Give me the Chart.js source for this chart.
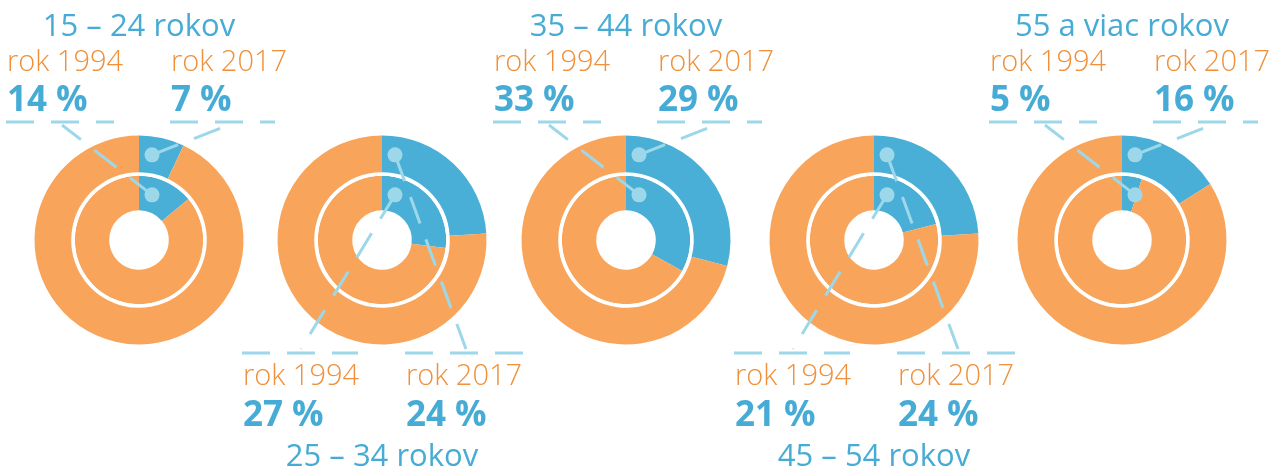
<!DOCTYPE html>
<html>
<head>
<meta charset="utf-8">
<script src="https://cdn.jsdelivr.net/npm/chart.js@4"></script>
<style>
  html, body { margin: 0; padding: 0; background: #fff; }
  #wrap { position: relative; width: 1271px; height: 466px; overflow: hidden; }
  #wrap canvas { position: absolute; left: 0; top: 0; }
  #texts { position: absolute; left: 0; top: 0; }
  .title { font-family: 'Open Sans', sans-serif; font-size: 31px; fill: #47acd5; }
  .year { font-family: 'Open Sans', sans-serif; font-size: 29px; font-weight: 300; fill: #f0903a; }
  .pct { font-family: 'Open Sans', sans-serif; font-size: 35px; font-weight: 700; fill: #47acd5; }
</style>
</head>
<body>
<div id="wrap">
  <svg id="texts" width="1271" height="466"></svg>
</div>
<script>
// data
var groups = ['15 – 24 rokov', '25 – 34 rokov', '35 – 44 rokov', '45 – 54 rokov', '55 a viac rokov'];
var years = ['rok 1994', 'rok 2017'];
var share1994 = [14, 27, 33, 21, 5];
var share2017 = [7, 24, 29, 24, 16];

// layout
var centersX = [139, 382, 626, 874, 1122];
var centerY = 240;
var BLUE = '#49afd6';
var ORANGE = '#f8a55b';
var LIGHT = '#9dd8ea';

var sides = {
  top: {
    leftOff: -133, rightOff: 31, lineY: 122,
    leftLen: 108, rightLen: 105,
    innerEnd: [56, 125], outerEnd: [51, 128],
    titleY: 36, yearY: 71, pctY: 111
  },
  bottom: {
    leftOff: -140, rightOff: 23, lineY: 353,
    leftLen: 116, rightLen: 119,
    innerEnd: [59, 349], outerEnd: [61, 349],
    titleY: 466, yearY: 385, pctY: 426
  }
};

function dashLine(ctx, x1, y1, x2, y2) {
  ctx.save();
  ctx.strokeStyle = LIGHT;
  ctx.lineWidth = 3;
  ctx.setLineDash([28, 17]);
  ctx.beginPath();
  ctx.moveTo(x1, y1);
  ctx.lineTo(x2, y2);
  ctx.stroke();
  ctx.restore();
}

// tečky na segmentoch + spojovacie čiary k popisom
var leaders = {
  id: 'leaders',
  afterDatasetsDraw: function (chart, args, opts) {
    var ctx = chart.ctx;
    var s = sides[opts.side];
    var cx = opts.cx;
    var lx = cx + s.leftOff;
    var rx = cx + s.rightOff;

    dashLine(ctx, lx, s.lineY, lx + s.leftLen, s.lineY);
    dashLine(ctx, rx, s.lineY, rx + s.rightLen, s.lineY);

    var rings = [
      { ds: 0, end: [rx + s.outerEnd[0], s.outerEnd[1]] },
      { ds: 2, end: [lx + s.innerEnd[0], s.innerEnd[1]] }
    ];
    rings.forEach(function (r) {
      var arc = chart.getDatasetMeta(r.ds).data[0];
      var p = arc.getProps(['x', 'y', 'startAngle', 'innerRadius', 'outerRadius'], true);
      var midR = (p.innerRadius + p.outerRadius) / 2;
      var a = p.startAngle + Math.asin(13 / midR);
      var dx = p.x + midR * Math.cos(a);
      var dy = p.y + midR * Math.sin(a);
      dashLine(ctx, dx, dy, r.end[0], r.end[1]);
      ctx.save();
      ctx.fillStyle = LIGHT;
      ctx.beginPath();
      ctx.arc(dx, dy, 7.5, 0, Math.PI * 2);
      ctx.fill();
      ctx.restore();
    });
  }
};

var wrap = document.getElementById('wrap');
var svg = document.getElementById('texts');

function addText(cls, x, y, str, anchor) {
  var t = document.createElementNS('http://www.w3.org/2000/svg', 'text');
  t.setAttribute('class', cls);
  t.setAttribute('x', x);
  t.setAttribute('y', y);
  if (anchor) t.setAttribute('text-anchor', anchor);
  t.textContent = str;
  svg.appendChild(t);
}

for (var i = 0; i < groups.length; i++) {
  var side = (i % 2 === 0) ? 'top' : 'bottom';
  var s = sides[side];
  var cx = centersX[i];

  var canvas = document.createElement('canvas');
  canvas.width = 1271;
  canvas.height = 466;
  wrap.insertBefore(canvas, svg);

  new Chart(canvas, {
    type: 'doughnut',
    data: {
      labels: ['podiel', 'ostatné'],
      datasets: [
        { label: years[1], data: [share2017[i], 100 - share2017[i]], backgroundColor: [BLUE, ORANGE], weight: 36.7 },
        { label: '', data: [100], backgroundColor: ['#ffffff'], weight: 3.6 },
        { label: years[0], data: [share1994[i], 100 - share1994[i]], backgroundColor: [BLUE, ORANGE], weight: 34.4 }
      ]
    },
    options: {
      responsive: false,
      animation: false,
      events: [],
      radius: 104.5,
      cutout: '28.5%',
      elements: { arc: { borderWidth: 0 } },
      layout: {
        padding: { left: cx - 120, right: 1271 - cx - 120, top: centerY - 120, bottom: 466 - centerY - 120 }
      },
      plugins: {
        legend: { display: false },
        tooltip: { enabled: false },
        leaders: { side: side, cx: cx }
      }
    },
    plugins: [leaders]
  });

  var lx = cx + s.leftOff;
  var rx = cx + s.rightOff;
  addText('title', cx, s.titleY, groups[i], 'middle');
  addText('year', lx + 1, s.yearY, years[0]);
  addText('year', rx + 1, s.yearY, years[1]);
  addText('pct', lx + 1, s.pctY, share1994[i] + ' %');
  addText('pct', rx + 1, s.pctY, share2017[i] + ' %');
}
</script>
</body>
</html>
